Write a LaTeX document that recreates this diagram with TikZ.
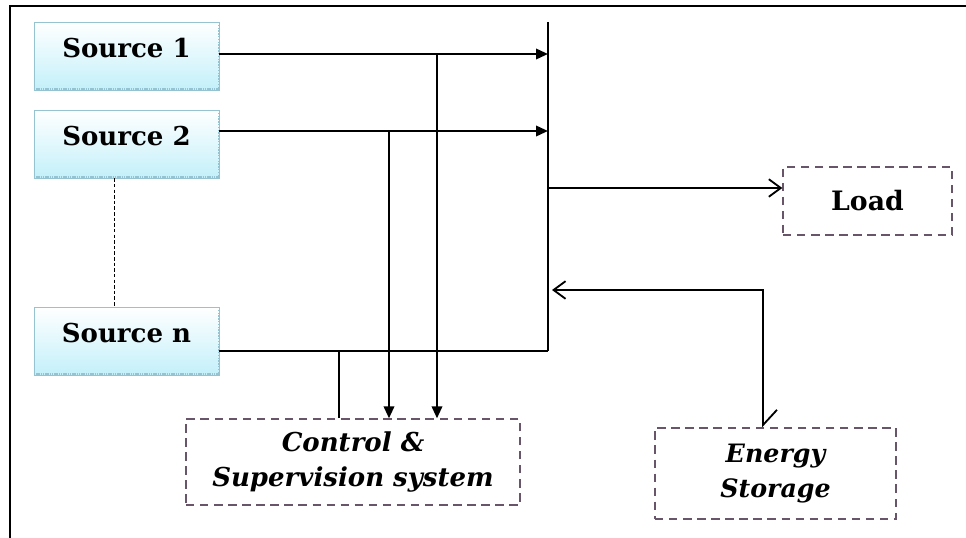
\documentclass[tikz,border=0pt]{standalone}
\usepackage{fontspec}
\setmainfont{DejaVu Serif}
\usetikzlibrary{arrows.meta,positioning,calc}
\definecolor{boxedge}{RGB}{150,195,210}
\definecolor{boxfill}{RGB}{195,240,250}
\definecolor{shade}{RGB}{40,50,80}
\definecolor{dashedge}{RGB}{105,85,105}
\begin{document}
\begin{tikzpicture}[x=0.025cm,y=-0.025cm,
  every node/.style={font=\fontsize{18}{22}\selectfont},
  src/.style={draw=boxedge,top color=white,bottom color=boxfill,minimum width=185*0.25mm,minimum height=68*0.25mm,inner sep=0pt,text depth=4mm,font=\bfseries\fontsize{18.5}{22}\selectfont,
    path picture={\draw[shade,line width=3pt,dash pattern=on 1pt off 0.6pt] (path picture bounding box.south west) -- (path picture bounding box.south east);
      \draw[shade,line width=1pt,dash pattern=on 1pt off 1pt] (path picture bounding box.north east) -- (path picture bounding box.south east);}},
  dbox/.style={draw=dashedge,line width=0.9pt,dash pattern=on 6pt off 4pt,align=center,inner sep=0pt},
  feed/.style={-{Triangle[length=3mm,width=2.6mm]},line width=1.6pt},
  wire/.style={line width=1.3pt},
  ret/.style={-{Straight Barb[length=3mm,width=4.4mm]},line width=1.3pt}]
\useasboundingbox (0,0) rectangle (966,538);
% frame
\draw[line width=1.6pt] (10,538) -- (10,6) -- (966,6);
% sources
\node[src] (s1) at (126.5,56) {Source 1};
\node[src] (s2) at (126.5,144) {Source 2};
\node[src] (sn) at (126.5,341) {Source n};
\draw[dashed,line width=0.6pt,dash pattern=on 2.5pt off 1.5pt] ($(s2.south)+(-12,0)$) coordinate (v1) -- (v1 |- sn.north);
% boxes
\node[dbox,minimum width=334*0.25mm,minimum height=86*0.25mm,font=\bfseries\itshape\fontsize{18.5}{25}\selectfont] (ctrl) at (353,462) {Control \&\\Supervision system};
\node[dbox,minimum width=169*0.25mm,minimum height=68*0.25mm,font=\bfseries\fontsize{19}{22}\selectfont] (load) at (867.5,201) {Load};
\node[dbox,minimum width=241*0.25mm,minimum height=91*0.25mm,font=\bfseries\itshape\fontsize{18}{25}\selectfont] (stor) at (775.5,473.5) {Energy\\Storage};
% bus
\coordinate (bustop) at (548,22);
\coordinate (busbot) at (548,351);
\coordinate (d1) at (437,0);
\coordinate (d2) at (389,0);
\coordinate (d3) at (339,0);
\coordinate (e1) at (763,290);
\draw[wire] (bustop) -- (busbot);
\draw[feed] ($(s1.east)+(0,-2)$) coordinate (f1) -- (f1 -| bustop);
\draw[feed] ($(s2.east)+(0,-13)$) coordinate (f2) -- (f2 -| bustop);
\draw[wire] ($(sn.east)+(0,10)$) coordinate (fn) -- (fn -| busbot);
\draw[feed] (f1 -| d1) -- (ctrl.north -| d1);
\draw[feed] (f2 -| d2) -- (ctrl.north -| d2);
\draw[wire] (fn -| d3) -- (ctrl.north -| d3);
\draw[ret] ($(bustop)+(0,166)$) coordinate (lo) -- (lo -| load.west);
\draw[ret,{Straight Barb[left,length=3.8mm,width=7mm]}-{Straight Barb[length=3mm,width=4.4mm]}] (stor.north -| e1) -- (e1) -- ($(e1 -| busbot)+(4,0)$);
\end{tikzpicture}
\end{document}
